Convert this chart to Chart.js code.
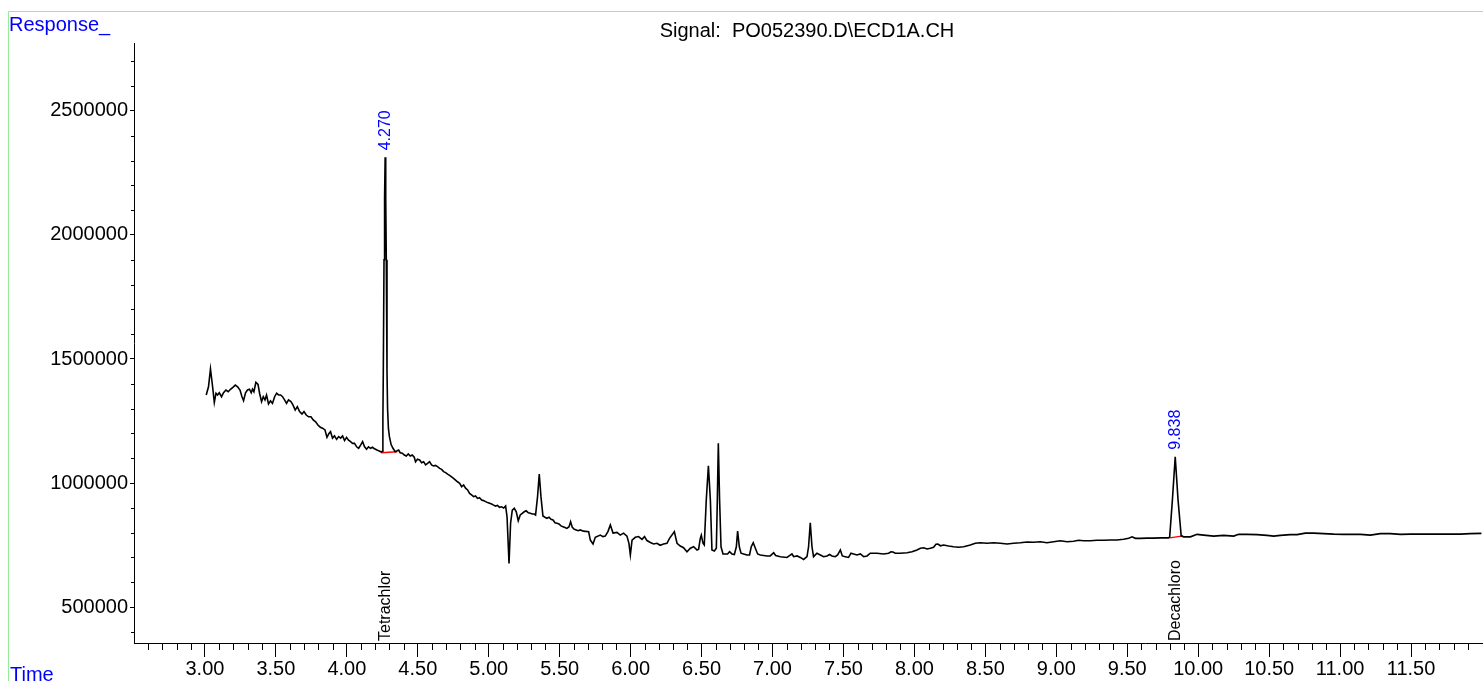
<!DOCTYPE html>
<html>
<head>
<meta charset="utf-8">
<script src="https://cdn.jsdelivr.net/npm/chart.js@4.4.1/dist/chart.umd.min.js"></script>
<style>
html, body { margin: 0; padding: 0; background: #fff; overflow: hidden; }
canvas { display: block; }
</style>
</head>
<body>
<canvas id="chromatogram" width="1483" height="681"></canvas>
<script>
// signal trace (time in min, response in counts)
const signalTitle = 'Signal:  PO052390.D\\ECD1A.CH';

const retentionTimes = [
  3.009, 3.025, 3.039, 3.054, 3.066, 3.078, 3.089, 3.101, 3.117, 3.131, 3.148, 3.164, 3.180, 3.197, 3.214, 3.230,
  3.247, 3.261, 3.272, 3.286, 3.300, 3.314, 3.326, 3.335, 3.345, 3.359, 3.374, 3.385, 3.399, 3.411, 3.423, 3.434,
  3.448, 3.462, 3.476, 3.491, 3.505, 3.519, 3.533, 3.547, 3.561, 3.575, 3.589, 3.606, 3.620, 3.636, 3.651, 3.667,
  3.684, 3.698, 3.714, 3.730, 3.747, 3.763, 3.780, 3.796, 3.813, 3.829, 3.846, 3.860, 3.874, 3.885, 3.899, 3.913,
  3.928, 3.942, 3.956, 3.970, 3.984, 3.998, 4.012, 4.026, 4.040, 4.054, 4.069, 4.083, 4.097, 4.111, 4.125, 4.139,
  4.153, 4.167, 4.181, 4.195, 4.212, 4.228, 4.243,
  4.250, 4.254, 4.257, 4.262, 4.266, 4.270, 4.274, 4.278, 4.283, 4.287, 4.293, 4.300, 4.312, 4.325, 4.341,
  4.365, 4.376, 4.391, 4.405, 4.419, 4.433, 4.447, 4.461, 4.475, 4.484, 4.498, 4.513, 4.527, 4.541, 4.555, 4.569,
  4.583, 4.597, 4.611, 4.625, 4.639, 4.654, 4.668, 4.682, 4.696, 4.710, 4.724, 4.738, 4.752, 4.766, 4.780, 4.795,
  4.809, 4.823, 4.837, 4.851, 4.865, 4.879, 4.893, 4.907, 4.921, 4.935, 4.950, 4.964, 4.978, 4.992, 5.006, 5.020,
  5.034, 5.048, 5.062, 5.076, 5.091, 5.105, 5.119, 5.129, 5.143, 5.154, 5.166, 5.180, 5.194, 5.208, 5.222, 5.236,
  5.250, 5.264, 5.279, 5.293, 5.307, 5.321, 5.330, 5.344, 5.356, 5.368, 5.382, 5.396, 5.410, 5.425, 5.439, 5.453,
  5.467, 5.481, 5.495, 5.509, 5.523, 5.537, 5.551, 5.566, 5.577, 5.589, 5.603, 5.617, 5.631, 5.645,
  5.668, 5.704, 5.716, 5.735, 5.751, 5.786, 5.805, 5.821, 5.840, 5.857, 5.876, 5.904, 5.927, 5.950, 5.974, 5.988,
  5.998, 6.010, 6.033, 6.056, 6.080, 6.098, 6.115, 6.139, 6.162, 6.186, 6.208, 6.232, 6.256, 6.274, 6.291, 6.308,
  6.327, 6.350, 6.373, 6.397, 6.421, 6.444, 6.468, 6.479, 6.491, 6.498, 6.510, 6.519, 6.533, 6.548, 6.562, 6.573,
  6.590, 6.604, 6.611, 6.618, 6.627, 6.637, 6.651, 6.667, 6.683, 6.697, 6.714, 6.731, 6.745, 6.754, 6.766, 6.778,
  6.796, 6.820, 6.838, 6.850, 6.864, 6.879, 6.895, 6.914, 6.961, 6.984, 7.008, 7.022, 7.055, 7.102, 7.137, 7.149,
  7.173, 7.196, 7.219, 7.243, 7.254, 7.266, 7.278, 7.289, 7.313, 7.337, 7.360, 7.384, 7.402, 7.419, 7.442, 7.459,
  7.478, 7.492, 7.513, 7.536, 7.553, 7.571, 7.595, 7.619, 7.642, 7.666, 7.689,
  7.736, 7.783, 7.818, 7.835, 7.849, 7.865, 7.901, 7.948, 7.983, 8.018, 8.042, 8.065, 8.089, 8.112, 8.135, 8.152,
  8.166, 8.183, 8.206, 8.241, 8.276, 8.311, 8.347, 8.394, 8.429, 8.464, 8.512, 8.558, 8.605, 8.653, 8.699, 8.746,
  8.794, 8.840, 8.887, 8.934, 8.981, 9.028, 9.076, 9.122, 9.157, 9.193, 9.240, 9.287, 9.334, 9.381, 9.428, 9.474,
  9.510, 9.534, 9.557, 9.592, 9.639, 9.686, 9.733, 9.792,
  9.799, 9.818, 9.838, 9.858, 9.880,
  9.897, 9.945, 9.992, 10.038, 10.109, 10.179, 10.250, 10.285, 10.344, 10.415, 10.485, 10.532, 10.579, 10.649,
  10.697, 10.755, 10.814, 10.884, 10.955, 11.025, 11.096, 11.143, 11.213, 11.284, 11.354, 11.425, 11.495, 11.566,
  11.659, 11.754, 11.848, 11.918, 11.996
];

const responses = [
  1355000, 1388000, 1460000, 1388000, 1325000, 1362000, 1355000, 1364000, 1348000, 1364000, 1375000, 1368000, 1378000, 1386000, 1395000, 1388000,
  1375000, 1348000, 1332000, 1364000, 1375000, 1378000, 1364000, 1378000, 1368000, 1406000, 1398000, 1362000, 1328000, 1348000, 1335000, 1355000,
  1319000, 1331000, 1321000, 1348000, 1362000, 1355000, 1355000, 1348000, 1335000, 1321000, 1335000, 1328000, 1315000, 1294000, 1308000, 1288000,
  1278000, 1288000, 1274000, 1267000, 1267000, 1254000, 1247000, 1234000, 1225000, 1221000, 1214000, 1184000, 1200000, 1207000, 1181000, 1190000,
  1176000, 1187000, 1181000, 1190000, 1171000, 1184000, 1173000, 1167000, 1160000, 1160000, 1146000, 1140000, 1153000, 1167000, 1146000, 1136000,
  1146000, 1140000, 1144000, 1138000, 1133000, 1129000, 1125000,
  1128000, 1250000, 1450000, 1900000, 2150000, 2313000, 2150000, 1900000, 1450000, 1300000, 1220000, 1187000, 1155000, 1140000, 1126000,
  1133000, 1122000, 1120000, 1113000, 1109000, 1117000, 1109000, 1113000, 1104000, 1086000, 1096000, 1093000, 1082000, 1086000, 1073000, 1079000,
  1086000, 1073000, 1069000, 1071000, 1066000, 1059000, 1055000, 1046000, 1042000, 1036000, 1031000, 1025000, 1019000, 1012000, 1005000, 999000,
  985000, 992000, 979000, 972000, 958000, 952000, 945000, 948000, 938000, 941000, 931000, 929000, 925000, 921000, 918000, 915000,
  911000, 907000, 910000, 902000, 904000, 899000, 907000, 864000, 676000, 838000, 891000, 898000, 884000, 848000, 871000, 878000,
  884000, 888000, 880000, 878000, 875000, 875000, 871000, 945000, 1036000, 945000, 867000, 862000, 858000, 862000, 854000, 851000,
  840000, 838000, 835000, 827000, 824000, 821000, 817000, 824000, 844000, 821000, 813000, 811000, 808000, 811000,
  806000, 804000, 770000, 754000, 781000, 790000, 784000, 786000, 804000, 831000, 798000, 801000, 790000, 798000, 786000, 757000,
  710000, 770000, 781000, 784000, 773000, 784000, 768000, 760000, 754000, 757000, 749000, 754000, 757000, 777000, 790000, 804000,
  757000, 746000, 739000, 723000, 737000, 743000, 730000, 733000, 777000, 790000, 757000, 750000, 931000, 1069000, 931000, 730000,
  726000, 737000, 931000, 1160000, 931000, 743000, 714000, 714000, 714000, 723000, 714000, 712000, 743000, 806000, 743000, 717000,
  714000, 710000, 710000, 743000, 759000, 737000, 714000, 710000, 706000, 706000, 719000, 708000, 703000, 700000, 714000, 703000,
  706000, 700000, 692000, 703000, 743000, 840000, 743000, 703000, 717000, 710000, 703000, 706000, 712000, 706000, 703000, 710000,
  730000, 706000, 703000, 700000, 717000, 714000, 710000, 714000, 703000, 706000, 717000,
  717000, 714000, 717000, 723000, 722000, 717000, 717000, 719000, 723000, 730000, 737000, 739000, 734000, 737000, 741000, 753000,
  754000, 747000, 750000, 746000, 743000, 741000, 743000, 750000, 757000, 759000, 757000, 759000, 757000, 754000, 757000, 759000,
  762000, 761000, 763000, 759000, 763000, 767000, 763000, 765000, 769000, 767000, 767000, 769000, 769000, 770000, 770000, 773000,
  777000, 783000, 777000, 777000, 778000, 778000, 779000, 779000,
  783000, 931000, 1106000, 931000, 787000,
  783000, 783000, 793000, 790000, 786000, 789000, 786000, 793000, 793000, 792000, 789000, 786000, 789000, 792000,
  792000, 798000, 798000, 796000, 794000, 793000, 793000, 793000, 790000, 796000, 796000, 793000, 794000, 794000,
  794000, 794000, 794000, 796000, 797000
];

// integrated peaks
const peakTimes = [4.270, 9.838];
const peakLabels = ['4.270', '9.838'];
const peakHeights = [2313000, 1106000];
const compoundNames = ['Tetrachlor', 'Decachloro'];
const baselineStartTimes = [4.242, 9.799];
const baselineEndTimes = [4.355, 9.893];
const baselineStartResponses = [1122000, 779000];
const baselineEndResponses = [1126000, 787000];

const xTickLabels = ['3.00', '3.50', '4.00', '4.50', '5.00', '5.50', '6.00', '6.50', '7.00', '7.50',
  '8.00', '8.50', '9.00', '9.50', '10.00', '10.50', '11.00', '11.50'];
const yTickLabels = ['500000', '1000000', '1500000', '2000000', '2500000'];

const FONT = "'Liberation Sans', Arial, sans-serif";

const trace = retentionTimes.map((t, i) => ({ x: t, y: responses[i] }));
const baselineSets = peakTimes.map((_, i) => ({
  data: [
    { x: baselineStartTimes[i], y: baselineStartResponses[i] },
    { x: baselineEndTimes[i], y: baselineEndResponses[i] }
  ],
  borderColor: '#ff0000',
  borderWidth: 1.4,
  pointRadius: 0,
  tension: 0
}));

const decorations = {
  id: 'decorations',
  afterDraw(chart) {
    const { ctx, chartArea, scales: { x, y } } = chart;
    ctx.save();

    // minor ticks
    ctx.strokeStyle = '#000';
    ctx.lineWidth = 1;
    ctx.beginPath();
    for (let i = 26; i <= 119; i++) {
      if (i % 5 === 0) continue;
      const px = Math.round(x.getPixelForValue(i / 10)) + 0.5;
      ctx.moveTo(px, chartArea.bottom);
      ctx.lineTo(px, chartArea.bottom + 7);
    }
    for (let i = 4; i <= 27; i++) {
      if (i % 5 === 0) continue;
      const py = Math.round(y.getPixelForValue(i * 100000)) + 0.5;
      ctx.moveTo(chartArea.left - 3, py);
      ctx.lineTo(chartArea.left, py);
    }
    ctx.stroke();

    // green frame
    ctx.strokeStyle = '#96ec96';
    ctx.beginPath();
    ctx.moveTo(8.5, 681);
    ctx.lineTo(8.5, 11.5);
    ctx.lineTo(1483, 11.5);
    ctx.stroke();

    // labels
    ctx.font = '20px ' + FONT;
    ctx.fillStyle = '#0000ff';
    ctx.textAlign = 'left';
    ctx.textBaseline = 'alphabetic';
    ctx.fillText('Response_', 9, 31);
    ctx.fillText('Time', 10, 681);

    ctx.fillStyle = '#000';
    ctx.textAlign = 'center';
    ctx.fillText(signalTitle, 807, 37);

    peakTimes.forEach((t, i) => {
      const px = x.getPixelForValue(t);
      const py = y.getPixelForValue(peakHeights[i]);
      ctx.save();
      ctx.translate(px, py - 7);
      ctx.rotate(-Math.PI / 2);
      ctx.font = '16px ' + FONT;
      ctx.fillStyle = '#0000ff';
      ctx.textAlign = 'left';
      ctx.textBaseline = 'middle';
      ctx.fillText(peakLabels[i], 0, 0);
      ctx.restore();

      ctx.save();
      ctx.translate(px, chartArea.bottom - 2);
      ctx.rotate(-Math.PI / 2);
      ctx.font = '16px ' + FONT;
      ctx.fillStyle = '#000';
      ctx.textAlign = 'left';
      ctx.textBaseline = 'middle';
      ctx.fillText(compoundNames[i], 0, 0);
      ctx.restore();
    });

    ctx.restore();
  }
};

new Chart(document.getElementById('chromatogram'), {
  type: 'line',
  data: {
    datasets: [{
      data: trace,
      borderColor: '#000',
      borderWidth: 1.6,
      pointRadius: 0,
      tension: 0
    }, ...baselineSets]
  },
  options: {
    responsive: false,
    animation: false,
    devicePixelRatio: 1,
    layout: { padding: { top: 43, left: 0, right: 1, bottom: 0 } },
    plugins: { legend: { display: false }, tooltip: { enabled: false } },
    scales: {
      x: {
        type: 'linear',
        min: 2.5,
        max: 12,
        afterBuildTicks: s => { s.ticks = xTickLabels.map(v => ({ value: parseFloat(v) })); },
        afterFit: s => { s.height = 38; },
        grid: { drawOnChartArea: false, tickLength: 14, color: '#000' },
        border: { color: '#000', width: 1 },
        ticks: {
          autoSkip: false, maxRotation: 0, padding: 0, color: '#000',
          font: { family: FONT, size: 20 },
          callback: (v, i) => xTickLabels[i]
        }
      },
      y: {
        type: 'linear',
        min: 355000,
        max: 2774000,
        afterBuildTicks: s => { s.ticks = yTickLabels.map(v => ({ value: parseFloat(v) })); },
        afterFit: s => { s.width = 134; },
        grid: { drawOnChartArea: false, tickLength: 4, color: '#000' },
        border: { color: '#000', width: 1 },
        ticks: {
          padding: 2, color: '#000',
          font: { family: FONT, size: 20 },
          callback: (v, i) => yTickLabels[i]
        }
      }
    }
  },
  plugins: [decorations]
});
</script>
</body>
</html>
